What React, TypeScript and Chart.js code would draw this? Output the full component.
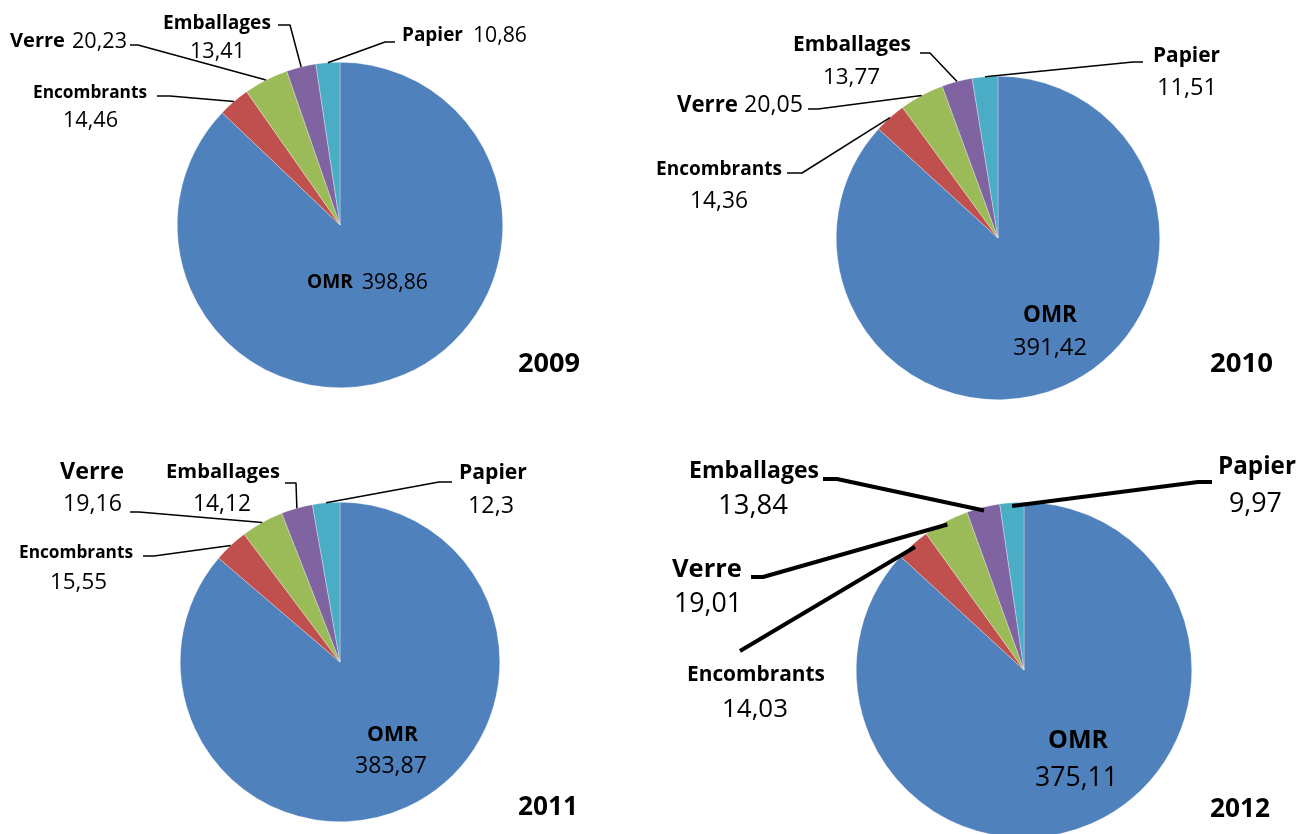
import React, { useEffect, useRef } from "react";
import { Chart, registerables } from "chart.js";

Chart.register(...registerables);

// ---------- data ----------
const categories = ["OMR", "Encombrants", "Verre", "Emballages", "Papier"];
const years = ["2009", "2010", "2011", "2012"];
const values2009 = [398.86, 14.46, 20.23, 13.41, 10.86];
const values2010 = [391.42, 14.36, 20.05, 13.77, 11.51];
const values2011 = [383.87, 15.55, 19.16, 14.12, 12.3];
const values2012 = [375.11, 14.03, 19.01, 13.84, 9.97];
const seriesByYear = [values2009, values2010, values2011, values2012];

// ---------- styles ----------
const colors = ["#4F81BD", "#C0504D", "#9BBB59", "#8064A2", "#4BACC6"];
const FONT = '"Open Sans", "DejaVu Sans", sans-serif';
const CANVAS_W = 1306;
const CANVAS_H = 900;

type Box = [number, number, number]; // left, right, vertical middle of capitals
type LabelLayout = { i: number; name: Box; value: Box; path?: [number, number][] };
type PieLayout = {
  cx: number;
  cy: number;
  r: number;
  lineWidth: number;
  arcFactor: number;
  year: Box;
  labels: LabelLayout[];
};

// ---------- layout (positions only) ----------
const layouts: PieLayout[] = [
  {
    cx: 340, cy: 225, r: 163, lineWidth: 1.5, arcFactor: 1,
    year: [518, 580, 362],
    labels: [
      { i: 0, name: [307, 353, 281], value: [362, 428, 281] },
      { i: 1, name: [33, 147, 91], value: [63, 118, 119], path: [[157, 96], [170, 96]] },
      { i: 2, name: [10, 65, 40], value: [72, 127, 40], path: [[130, 45], [138, 45]] },
      { i: 3, name: [163, 271, 22], value: [190, 245, 50], path: [[278, 25], [290, 25]] },
      { i: 4, name: [402, 463, 34], value: [473, 527, 34], path: [[395, 42], [385, 42]] },
    ],
  },
  {
    cx: 998, cy: 238, r: 162, lineWidth: 1.5, arcFactor: 1,
    year: [1210, 1273, 362],
    labels: [
      { i: 0, name: [1023, 1077, 313], value: [1013, 1087, 346] },
      { i: 1, name: [656, 782, 168], value: [690, 748, 199], path: [[787, 173], [802, 173]] },
      { i: 2, name: [677, 738, 103], value: [744, 803, 103], path: [[808, 109], [818, 109]] },
      { i: 3, name: [793, 911, 43], value: [823, 880, 76], path: [[920, 53], [930, 53]] },
      { i: 4, name: [1153, 1220, 54], value: [1157, 1217, 86], path: [[1143, 62], [1133, 62]] },
    ],
  },
  {
    cx: 340, cy: 662, r: 160, lineWidth: 1.5, arcFactor: 1,
    year: [518, 578, 805],
    labels: [
      { i: 0, name: [367, 418, 733], value: [355, 427, 764] },
      { i: 1, name: [19, 133, 551], value: [50, 107, 581], path: [[143, 556], [154, 556]] },
      { i: 2, name: [60, 124, 470], value: [63, 122, 502], path: [[130, 512], [139, 512]] },
      { i: 3, name: [166, 280, 471], value: [193, 251, 502], path: [[285, 483], [296, 483]] },
      { i: 4, name: [459, 527, 471], value: [468, 514, 504], path: [[452, 482], [439, 482]] },
    ],
  },
  {
    cx: 1024, cy: 670, r: 168, lineWidth: 4, arcFactor: 0.98,
    year: [1210, 1270, 807],
    labels: [
      { i: 0, name: [1048, 1108, 739], value: [1035, 1118, 776] },
      { i: 1, name: [687, 825, 673], value: [722, 788, 708], path: [[740, 651]] },
      { i: 2, name: [672, 742, 568], value: [674, 742, 602], path: [[751, 577], [763, 577]] },
      { i: 3, name: [689, 819, 469], value: [718, 788, 504], path: [[823, 479], [837, 479]] },
      { i: 4, name: [1218, 1296, 465], value: [1229, 1282, 502], path: [[1212, 482], [1198, 482]] },
    ],
  },
];

const fmt = (v: number) => String(v).replace(".", ",");

function drawFit(ctx: CanvasRenderingContext2D, text: string, box: Box, bold: boolean) {
  const [x0, x1, ym] = box;
  const w = x1 - x0;
  const weight = bold ? "bold " : "";
  ctx.font = `${weight}100px ${FONT}`;
  const m = ctx.measureText(text).width;
  const size = (100 * w) / m;
  ctx.font = `${weight}${size}px ${FONT}`;
  const capH = ctx.measureText("H").actualBoundingBoxAscent;
  ctx.textAlign = "left";
  ctx.textBaseline = "alphabetic";
  ctx.fillStyle = "#000";
  ctx.fillText(text, x0, ym + capH / 2);
}

function makeLabelPlugin(layout: PieLayout, yearIdx: number) {
  return {
    id: "pieLabels" + yearIdx,
    afterDraw(chart: any) {
      const ctx: CanvasRenderingContext2D = chart.ctx;
      const meta = chart.getDatasetMeta(0);
      const data = chart.data.datasets[0].data as number[];
      ctx.save();
      for (const lab of layout.labels) {
        const arc = meta.data[lab.i];
        const p = arc.getProps(["x", "y", "startAngle", "endAngle", "outerRadius"], true);
        const mid = (p.startAngle + p.endAngle) / 2;
        if (lab.path) {
          ctx.beginPath();
          ctx.strokeStyle = "#000";
          ctx.lineWidth = layout.lineWidth;
          ctx.lineJoin = "round";
          ctx.lineCap = "butt";
          lab.path.forEach(([x, y], k) => (k === 0 ? ctx.moveTo(x, y) : ctx.lineTo(x, y)));
          const rr = p.outerRadius * layout.arcFactor;
          ctx.lineTo(p.x + Math.cos(mid) * rr, p.y + Math.sin(mid) * rr);
          ctx.stroke();
        }
        drawFit(ctx, String(chart.data.labels[lab.i]), lab.name, true);
        drawFit(ctx, fmt(data[lab.i]), lab.value, false);
      }
      drawFit(ctx, years[yearIdx], layout.year, true);
      ctx.restore();
    },
  };
}

function PieChart({ idx }: { idx: number }) {
  const ref = useRef<HTMLCanvasElement>(null);
  useEffect(() => {
    const L = layouts[idx];
    const chart = new Chart(ref.current as HTMLCanvasElement, {
      type: "pie",
      data: {
        labels: categories,
        datasets: [
          {
            data: seriesByYear[idx],
            backgroundColor: colors,
            borderColor: "rgba(255,255,255,0.6)",
            borderWidth: 0.5,
          },
        ],
      },
      options: {
        responsive: false,
        animation: false,
        events: [],
        layout: {
          padding: {
            left: L.cx - L.r,
            top: L.cy - L.r,
            right: CANVAS_W - (L.cx + L.r),
            bottom: CANVAS_H - (L.cy + L.r),
          },
        },
        plugins: {
          legend: { display: false },
          tooltip: { enabled: false },
          title: { display: false },
        },
      } as any,
      plugins: [makeLabelPlugin(L, idx)],
    });
    return () => chart.destroy();
  }, [idx]);
  return (
    <canvas
      ref={ref}
      width={CANVAS_W}
      height={CANVAS_H}
      style={{ position: "absolute", left: 0, top: 0, width: CANVAS_W, height: CANVAS_H }}
    />
  );
}

export default function App() {
  return (
    <div
      style={{
        position: "absolute",
        left: 0,
        top: 0,
        width: 1306,
        height: 834,
        overflow: "hidden",
        background: "#fff",
      }}
    >
      {[0, 1, 2, 3].map((k) => (
        <PieChart key={k} idx={k} />
      ))}
    </div>
  );
}
